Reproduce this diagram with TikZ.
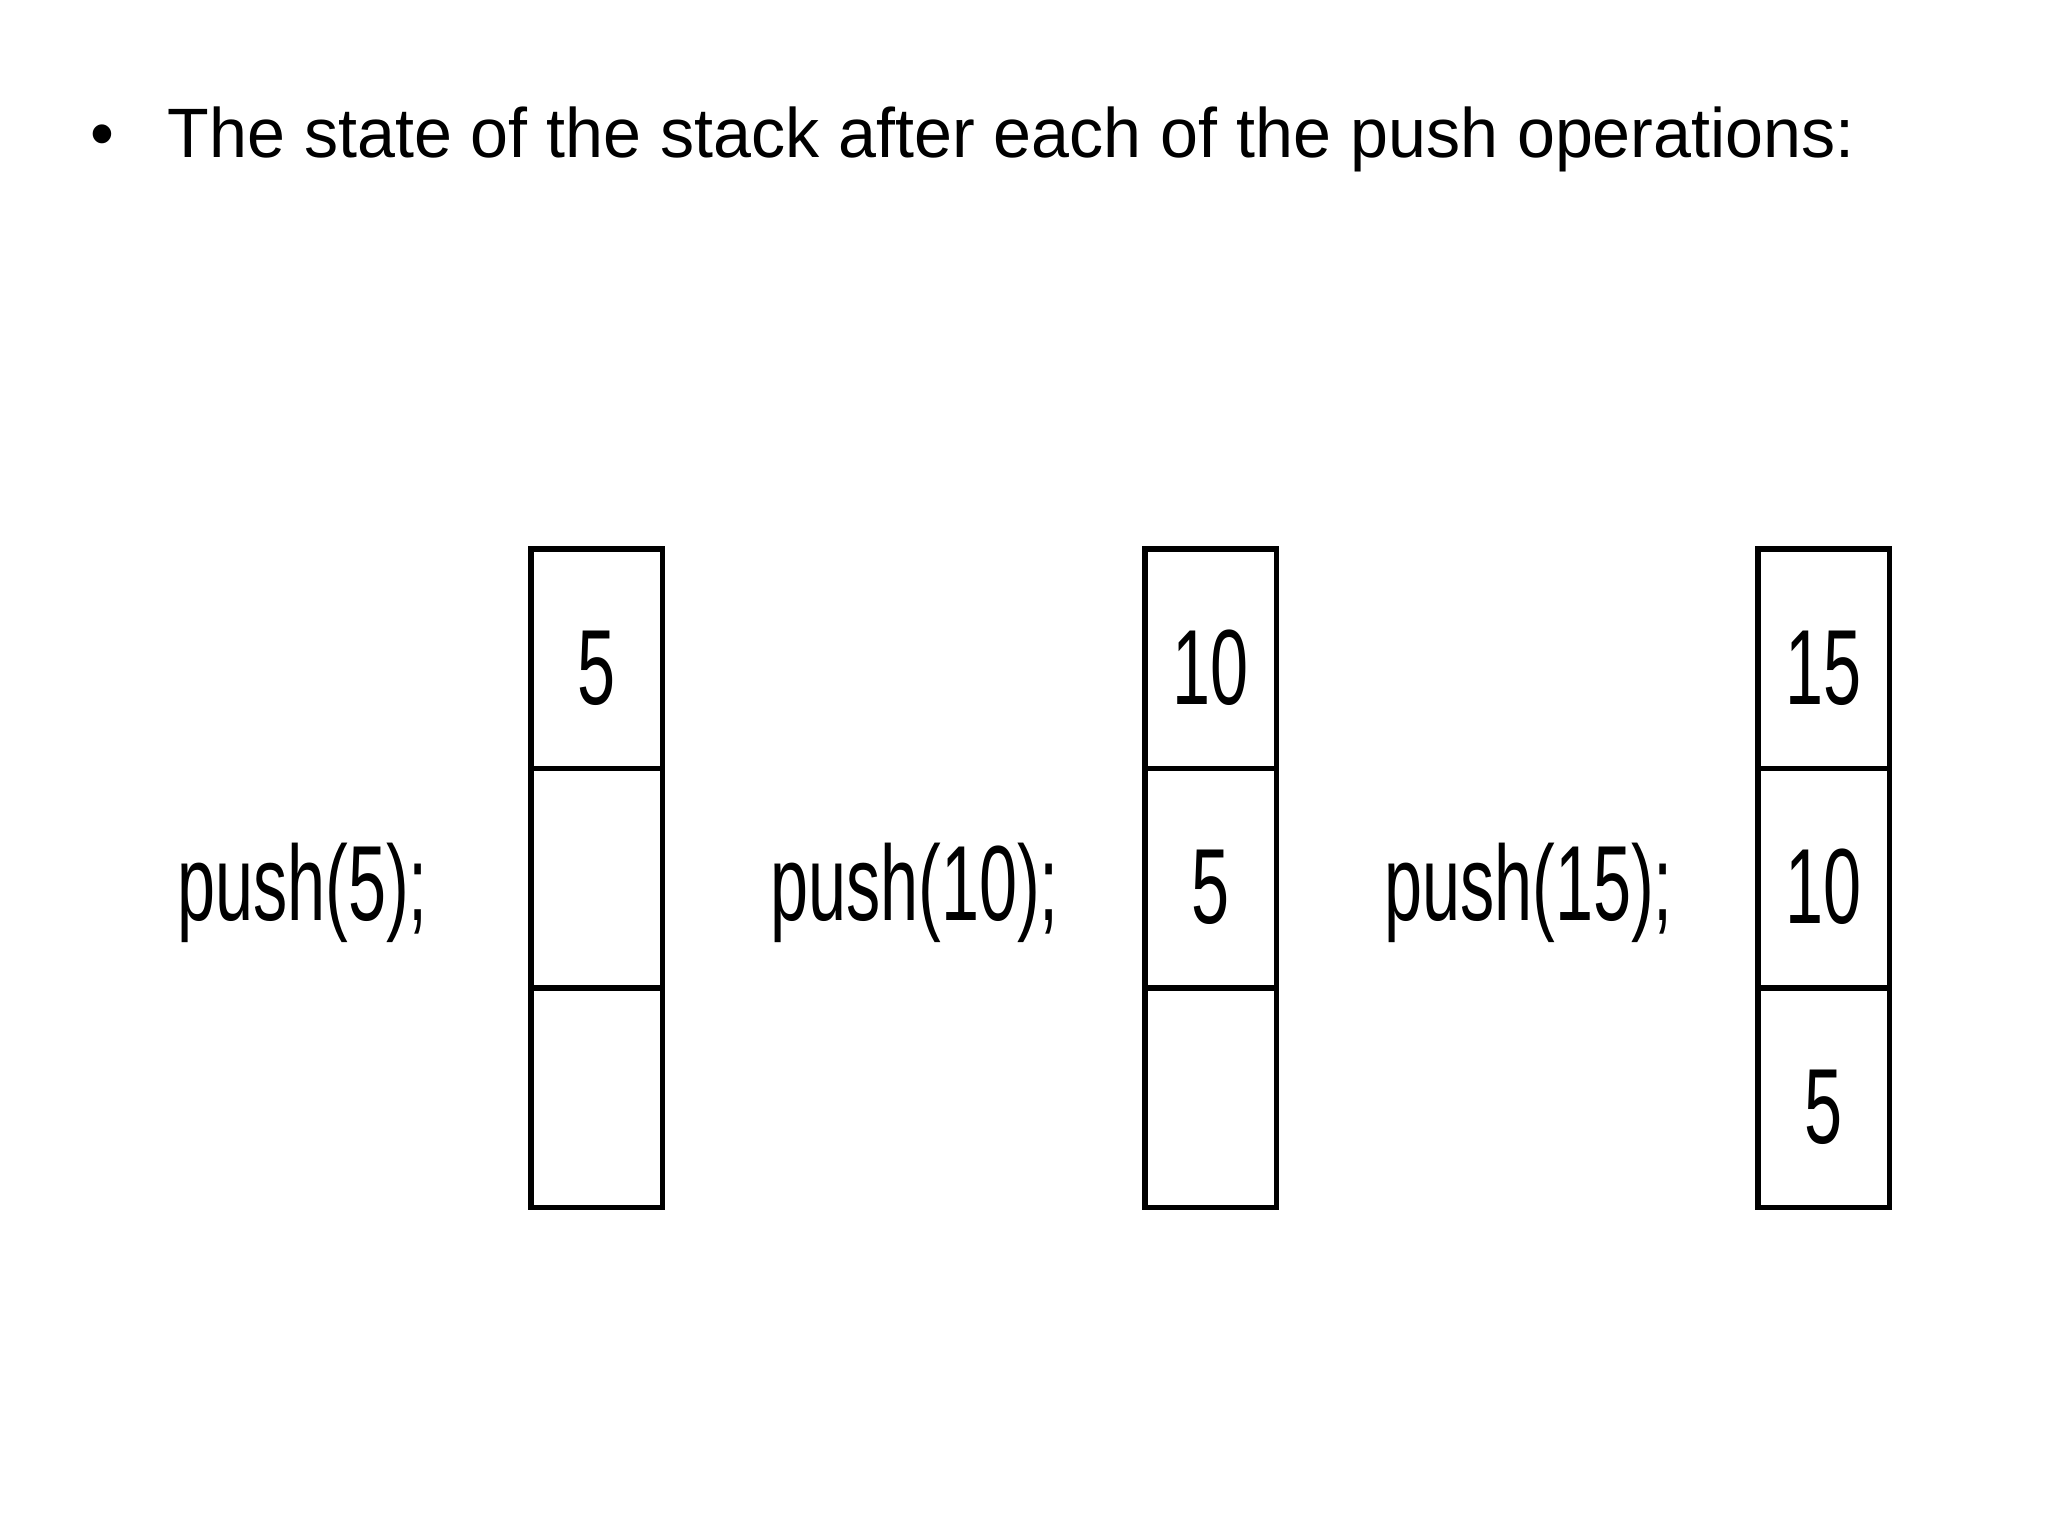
\documentclass[tikz,border=0pt]{standalone}
\usepackage{fontspec}
\setmainfont{Liberation Sans}
\newfontfamily\headfont[FakeStretch=0.975]{Liberation Sans}
\newfontfamily\codefont[FakeStretch=0.64]{Liberation Sans}
\usetikzlibrary{positioning}

\begin{document}
\begin{tikzpicture}[line width=0.055cm]
    % `cell' is one slot of a stack (value slightly below the middle).
    % `pushlabel' is the call written left of each stack.
    % `heading' is used for the bullet line on top.
    \tikzstyle{cell} = [draw,outer sep=0pt,minimum width=1.315cm,minimum height=2.195cm,
      text height=0.91cm,text depth=0cm,font=\codefont\fontsize{30.4}{36}\selectfont]
    \tikzstyle{pushlabel} = [inner sep=0pt,yshift=-0.144cm,font=\codefont\fontsize{30.4}{36}\selectfont]
    \tikzstyle{heading} = [inner sep=0pt,anchor=base west,font=\headfont\fontsize{19.9}{24}\selectfont]
    %
    \useasboundingbox (0,0) rectangle (20.48,-15.36);
    \node[heading] (dot) at (0.88,-1.58) {\textbullet};
    \node[heading] (title) at (1.65,-1.58) {The state of the stack after each of the push operations:};

    % first stack
    \node[cell] (a1) at (5.965,-6.5875) {5};
    \node[cell,below=0pt of a1] (b1) {};
    \node[cell,below=0pt of b1] (c1) {};
    \node[pushlabel,left=1.0cm of b1] (push1) {push(5);};

    % second stack
    \node[cell] (a2) at (12.105,-6.5875) {10};
    \node[cell,below=0pt of a2] (b2) {5};
    \node[cell,below=0pt of b2] (c2) {};
    \node[pushlabel,left=0.83cm of b2] (push2) {push(10);};

    % third stack
    \node[cell] (a3) at (18.235,-6.5875) {15};
    \node[cell,below=0pt of a3] (b3) {10};
    \node[cell,below=0pt of b3] (c3) {5};
    \node[pushlabel,left=0.82cm of b3] (push3) {push(15);};
\end{tikzpicture}
\end{document}
